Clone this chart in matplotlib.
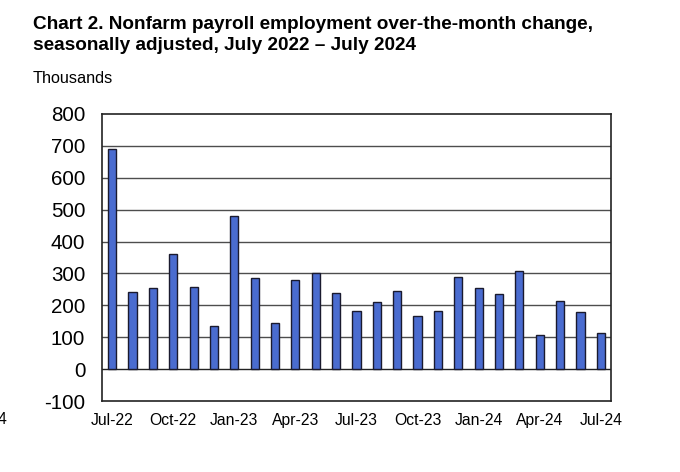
import numpy as np
import matplotlib
matplotlib.use('Agg')
import matplotlib.pyplot as plt

plt.rcParams['font.family'] = ['Liberation Sans', 'DejaVu Sans']

# monthly change in nonfarm payrolls, thousands
months = ['Jul-22', 'Aug-22', 'Sep-22', 'Oct-22', 'Nov-22', 'Dec-22',
          'Jan-23', 'Feb-23', 'Mar-23', 'Apr-23', 'May-23', 'Jun-23',
          'Jul-23', 'Aug-23', 'Sep-23', 'Oct-23', 'Nov-23', 'Dec-23',
          'Jan-24', 'Feb-24', 'Mar-24', 'Apr-24', 'May-24', 'Jun-24', 'Jul-24']
changes = [690, 241, 254, 360, 258, 134, 481, 287, 146, 278, 302, 239,
           183, 209, 246, 165, 182, 290, 255, 236, 309, 107, 215, 178, 113]
yticks = [-100, 0, 100, 200, 300, 400, 500, 600, 700, 800]

fig = plt.figure(figsize=(6.8, 4.72), dpi=100)
ax = fig.add_axes([0.15, 0.1504, 0.7485, 0.6081])

x = np.arange(len(months))
ax.bar(x, changes, width=0.4, color='#4a6cd0', edgecolor='#1a1a2e', linewidth=1.0, zorder=3)

ax.set_xlim(-0.5, len(months) - 0.5)
ax.set_ylim(-100, 800)
ax.set_yticks(yticks)
ax.set_yticklabels([str(v) for v in yticks], fontsize=14.8)
ax.set_xticks(x[::3])
ax.set_xticklabels(months[::3], fontsize=11.3)
ax.tick_params(axis='both', length=0)
ax.tick_params(axis='y', pad=12)
ax.tick_params(axis='x', pad=8.5)

for v in yticks[1:-1]:
    ax.axhline(v, color='#4d4d4d' if v else '#222222', linewidth=1.0, zorder=1)
for s in ax.spines.values():
    s.set_color('#222222')
    s.set_linewidth(1.2)

fig.text(0.0485, 0.966, 'Chart 2. Nonfarm payroll employment over-the-month change,\nseasonally adjusted, July 2022 \u2013 July 2024',
         fontsize=13.7, fontweight='bold', va='top', ha='left', linespacing=1.28)
fig.text(0.0485, 0.849, 'Thousands', fontsize=11.7, va='top', ha='left')
fig.text(-0.004, 0.111, '4', fontsize=11.3, va='center', ha='left')

fig.savefig('out.png', dpi=100)
